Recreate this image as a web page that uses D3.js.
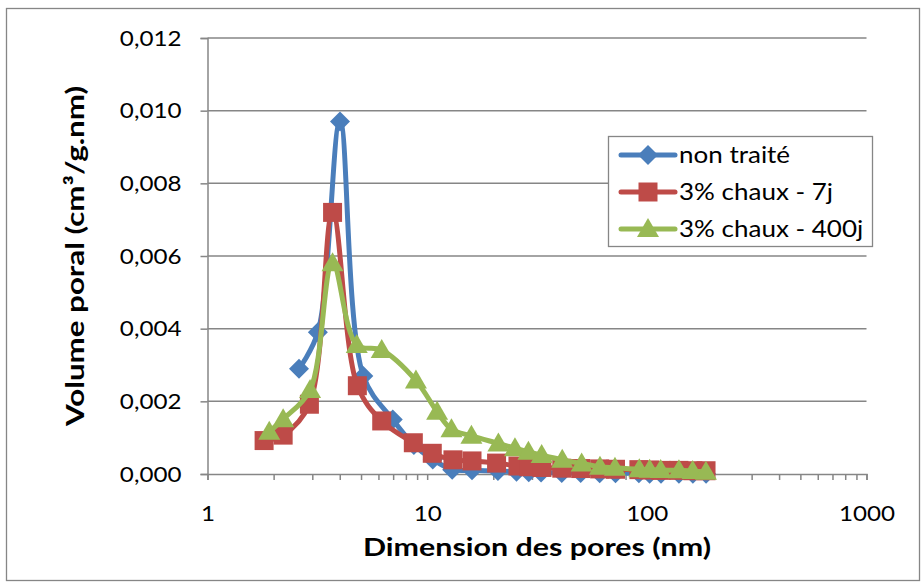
<!DOCTYPE html>
<html>
<head>
<meta charset="utf-8">
<script src="https://cdn.jsdelivr.net/npm/d3@7"></script>
<style>
  body { margin: 0; background: #fff; }
  text { font-family: Lato, "Open Sans", sans-serif; fill: #000; }
</style>
</head>
<body>
<div id="chart"></div>
<script>
// Pore size (nm) and pore volume (cm3/g.nm) for each sample
const poresNonTraite = [2.61, 3.18, 4.01, 5.12, 6.97, 8.7, 10.6, 13.0, 16.0, 21.0, 25.5, 29, 33, 41, 50, 61, 72, 92, 103, 116, 140, 162, 186]
const volNonTraite   = [0.0029, 0.0039, 0.0097, 0.0027, 0.0015, 0.0008, 0.0004, 0.00012, 0.0001, 0.00008, 0.00006, 0.00005, 0.00004, 0.00003, 0.00003, 0.00002, 0.00002, 0.00002, 0.00001, 0.00001, 0.00001, 0.00001, 0.00001]

const poresChaux7 = [1.81, 2.21, 2.91, 3.71, 4.81, 6.21, 8.65, 10.55, 13.1, 16.0, 20.7, 25.9, 29, 33.3, 41, 50, 61, 72, 92, 103, 116, 140, 162, 186]
const volChaux7   = [0.00092, 0.00107, 0.00192, 0.0072, 0.00243, 0.00146, 0.00086, 0.00057, 0.00039, 0.00036, 0.0003, 0.00022, 0.0002, 0.00018, 0.00016, 0.00015, 0.00014, 0.00013, 0.00012, 0.00011, 0.0001, 0.0001, 0.00009, 0.00009]

const poresChaux400 = [1.91, 2.21, 2.93, 3.71, 4.78, 6.21, 8.89, 11.1, 12.9, 15.9, 21.1, 25.1, 28.9, 33.2, 41.2, 50.5, 61.2, 71.6, 92.4, 103, 115.6, 140, 161.7, 185.8]
const volChaux400   = [0.00116, 0.00151, 0.00231, 0.0058, 0.00355, 0.00341, 0.00257, 0.00171, 0.00123, 0.00105, 0.00084, 0.00071, 0.00061, 0.00052, 0.00039, 0.00029, 0.0002, 0.00017, 0.00013, 0.00012, 0.00011, 0.0001, 0.00008, 0.00006]

const seriesNames = ["non traité", "3% chaux - 7j", "3% chaux - 400j"]
const yTicks = [0, 0.002, 0.004, 0.006, 0.008, 0.010, 0.012]
const xLabels = [1, 10, 100, 1000]

// Chart parameters
const WIDTH = 923
const HEIGHT = 583
const LEFT = 207.5, RIGHT = 866.5, TOP = 38, BOTTOM = 474
const GREY = "#868686"
const COLORS = ["#4A7EBB", "#BE4B48", "#98B954"]

// The reference text is a bit wider than Lato, so stretch it horizontally
function stretch(sel, factor) {
    sel.each(function() {
        const n = this.getComputedTextLength()
        if (n > 0) d3.select(this)
            .attr("textLength", n * factor)
            .attr("lengthAdjust", "spacingAndGlyphs")
    })
}

const svg = d3.select("#chart")
    .append("svg")
    .attr("width", WIDTH)
    .attr("height", HEIGHT)

// Outer chart border
svg.append("rect")
    .attr("x", 6.5).attr("y", 8.5)
    .attr("width", 913).attr("height", 572)
    .attr("fill", "#fff")
    .attr("stroke", GREY)
    .attr("stroke-width", 1.3)

// Scales
const x = d3.scaleLog().domain([1, 1000]).range([LEFT, RIGHT])
const y = d3.scaleLinear().domain([0, 0.012]).range([BOTTOM, TOP])

// Horizontal gridlines
svg.append("g")
    .selectAll("line")
    .data(yTicks.slice(1))
    .enter()
    .append("line")
    .attr("x1", LEFT).attr("x2", RIGHT)
    .attr("y1", d => y(d)).attr("y2", d => y(d))
    .attr("stroke", GREY)
    .attr("stroke-width", 1.5)

// Y axis
const yAxis = svg.append("g")
    .attr("transform", `translate(${LEFT},0)`)
    .call(d3.axisLeft(y)
        .tickValues(yTicks)
        .tickSize(7)
        .tickPadding(19)
        .tickFormat(d => d.toFixed(3).replace(".", ",")))
yAxis.select(".domain").attr("stroke", GREY).attr("stroke-width", 1.5)
yAxis.selectAll(".tick line").attr("stroke", GREY).attr("stroke-width", 1.5)
yAxis.selectAll(".tick text").style("font-size", "22px").attr("font-family", null)

// X axis (log, minor ticks at every integer multiple)
const xTickValues = []
for (const dec of [1, 10, 100]) for (let k = 1; k < 10; k++) xTickValues.push(dec * k)
xTickValues.push(1000)
const xAxis = svg.append("g")
    .attr("transform", `translate(0,${BOTTOM})`)
    .call(d3.axisBottom(x)
        .tickValues(xTickValues)
        .tickSize(6)
        .tickPadding(25)
        .tickFormat(d => xLabels.includes(d) ? String(d) : ""))
xAxis.select(".domain").attr("stroke", GREY).attr("stroke-width", 1.5)
xAxis.selectAll(".tick line").attr("stroke", GREY).attr("stroke-width", 1.5)
xAxis.selectAll(".tick text").style("font-size", "22px").attr("font-family", null)

stretch(yAxis.selectAll(".tick text"), 1.1)
stretch(xAxis.selectAll(".tick text"), 1.1)

// Axis titles
svg.append("text")
    .attr("x", (LEFT + RIGHT) / 2)
    .attr("y", 556)
    .attr("text-anchor", "middle")
    .attr("textLength", 348)
    .attr("lengthAdjust", "spacingAndGlyphs")
    .style("font-size", "25px")
    .style("font-weight", "bold")
    .text("Dimension des pores (nm)")

svg.append("text")
    .attr("transform", `translate(84,${(TOP + BOTTOM) / 2}) rotate(-90)`)
    .attr("text-anchor", "middle")
    .attr("textLength", 340)
    .attr("lengthAdjust", "spacingAndGlyphs")
    .style("font-size", "25px")
    .style("font-weight", "bold")
    .text("Volume poral (cm³/g.nm)")

// Series
const series = [
    { name: seriesNames[0], xs: poresNonTraite, ys: volNonTraite, symbol: "diamond" },
    { name: seriesNames[1], xs: poresChaux7, ys: volChaux7, symbol: "square" },
    { name: seriesNames[2], xs: poresChaux400, ys: volChaux400, symbol: "triangle" }
]

function markerPath(type) {
    if (type === "diamond") return "M0,-10L10,0L0,10L-10,0Z"
    if (type === "square") return "M-9.5,-9.5H9.5V9.5H-9.5Z"
    return "M0,-11L11,8L-11,8Z"
}

const line = d3.line()
    .x(d => x(d[0]))
    .y(d => y(d[1]))
    .curve(d3.curveCatmullRom.alpha(0.5))

series.forEach(function(s, i) {
    const pts = s.xs.map((v, j) => [v, s.ys[j]])
    const g = svg.append("g")
    g.append("path")
        .attr("d", line(pts))
        .attr("fill", "none")
        .attr("stroke", COLORS[i])
        .attr("stroke-width", 5)
        .attr("stroke-linejoin", "round")
    g.selectAll("path.marker")
        .data(pts)
        .enter()
        .append("path")
        .attr("class", "marker")
        .attr("d", markerPath(s.symbol))
        .attr("transform", d => `translate(${x(d[0])},${y(d[1])})`)
        .attr("fill", COLORS[i])
})

// Legend
const legend = svg.append("g")
legend.append("rect")
    .attr("x", 608.5).attr("y", 136.5)
    .attr("width", 264).attr("height", 110)
    .attr("fill", "#fff")
    .attr("stroke", GREY)
    .attr("stroke-width", 1.3)

series.forEach(function(s, i) {
    const cy = 155 + i * 37
    legend.append("line")
        .attr("x1", 621).attr("x2", 675)
        .attr("y1", cy).attr("y2", cy)
        .attr("stroke", COLORS[i])
        .attr("stroke-width", 5)
        .attr("stroke-linecap", "round")
    legend.append("path")
        .attr("d", markerPath(s.symbol))
        .attr("transform", `translate(648,${cy})`)
        .attr("fill", COLORS[i])
    legend.append("text")
        .attr("x", 679)
        .attr("y", cy)
        .attr("dy", "0.36em")
        .style("font-size", "23px")
        .text(s.name)
})
stretch(legend.selectAll("text"), 1.13)
</script>
</body>
</html>
